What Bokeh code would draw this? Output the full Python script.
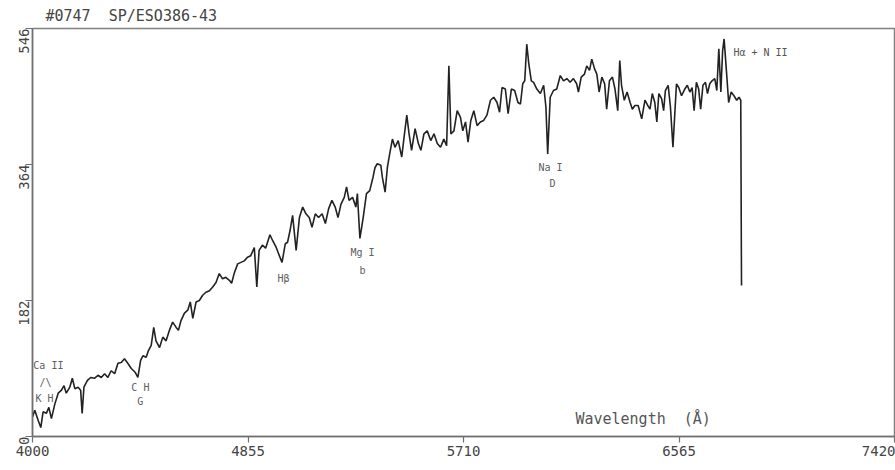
from bokeh.plotting import figure
from bokeh.models import ColumnDataSource, FixedTicker
from bokeh.core.properties import value
from bokeh.embed import file_html
from bokeh.resources import INLINE
import math

# Spectrum of #0747 SP/ESO386-43 (wavelength in Angstrom, flux in plot units)
wavelength = [4000,4009,4023,4033,4042,4055,4065,4075,4089,4102,
4115,4125,4134,4148,4158,4168,4181,4191,4197,4204,
4218,4231,4247,4260,4273,4286,4299,4312,4326,4339,
4352,4365,4378,4392,4407,4418,4429,4438,4451,4460,
4471,4481,4490,4504,4517,4530,4543,4556,4570,4579,
4589,4603,4616,4626,4636,4649,4662,4675,4688,4702,
4715,4728,4741,4754,4767,4781,4790,4800,4814,4827,
4840,4853,4866,4880,4890,4899,4912,4925,4942,4953,
4967,4977,4990,5003,5012,5022,5032,5046,5059,5072,
5085,5098,5109,5122,5135,5149,5162,5175,5188,5201,
5212,5224,5237,5246,5256,5270,5283,5289,5299,5312,
5325,5338,5351,5359,5368,5382,5388,5399,5408,5417,
5428,5438,5451,5465,5474,5485,5494,5504,5518,5531,
5541,5553,5566,5580,5593,5606,5619,5632,5643,5652,
5660,5672,5685,5698,5707,5718,5728,5739,5751,5764,
5777,5790,5803,5817,5830,5843,5853,5863,5876,5887,
5900,5913,5926,5936,5945,5953,5961,5969,5979,5988,
6001,6015,6028,6037,6044,6054,6067,6080,6094,6107,
6120,6133,6146,6159,6166,6177,6190,6199,6210,6219,
6230,6239,6248,6259,6270,6278,6289,6301,6311,6322,
6330,6337,6348,6359,6371,6380,6390,6403,6417,6430,
6441,6450,6459,6469,6477,6485,6496,6504,6511,6522,
6531,6541,6549,6555,6564,6575,6588,6598,6608,6617,
6625,6634,6643,6651,6660,6670,6678,6687,6696,6707,
6715,6723,6731,6738,6744,6753,6762,6772,6783,6794,
6803,6810,6813]

flux = [26,35,21,12,33,31,39,24,44,58,
62,68,58,66,78,64,66,62,31,66,
75,79,78,82,79,84,79,88,84,98,
99,104,98,91,86,79,102,108,106,115,
122,146,128,119,133,128,142,153,146,142,
155,165,169,180,158,180,182,189,193,195,
200,206,218,211,213,209,205,218,231,233,
235,240,242,253,200,249,256,252,270,262,
253,244,233,258,260,276,296,249,293,307,
298,293,280,298,293,298,285,305,316,307,
293,311,320,334,316,320,307,325,265,293,
325,329,347,360,365,363,347,327,360,378,
398,387,396,374,400,430,405,383,412,392,
383,405,409,396,405,392,387,398,389,496,
405,409,436,427,409,421,394,423,436,416,
421,423,430,450,454,447,434,467,465,432,
465,463,447,445,472,476,525,499,476,474,
465,459,470,441,378,454,463,465,483,476,
479,474,479,472,461,481,485,496,490,505,
492,485,461,481,472,438,476,481,465,436,
503,470,450,461,447,438,443,443,425,450,
443,438,459,447,421,459,452,436,463,470,
441,387,436,472,467,456,465,470,461,467,
436,474,465,438,470,474,459,472,476,479,
463,519,461,516,532,490,447,461,456,450,
454,450,202]

x_ticks = [4000, 4855, 5710, 6565, 7420]
y_ticks = [0, 182, 364, 546]

# Line identifications (centred labels)
line_labels = ["Ca II", "/\\", "K H", "C H", "G", "H\u03b2", "Mg I", "b", "Na I", "D"]
line_label_x = [4063, 4052, 4048, 4428, 4428, 4996, 5309, 5309, 6055, 6063]
line_label_y = [95, 72, 51, 66, 47, 211, 246, 222, 360, 339]

# Left-aligned labels
left_labels = ["H\u03b1 + N II", "Wavelength\u00a0\u00a0(\u00c5)"]
left_label_x = [6781, 6154]
left_label_y = [514, 24]
left_label_size = ["10px", "15px"]

FONT = "DejaVu Sans Mono"

p = figure(width=895, height=470, x_range=(4000, 7420), y_range=(0, 546),
           output_backend="svg", toolbar_location=None,
           min_border_left=32, min_border_right=1, min_border_top=28,
           min_border_bottom=34,
           title="#0747\u00a0\u00a0SP/ESO386-43")

p.title.text_font = FONT
p.title.text_font_size = "15px"
p.title.text_font_style = "normal"
p.title.text_color = "#444444"
p.title.offset = 13
p.title.standoff = 7

p.grid.visible = False
p.background_fill_color = "white"
p.border_fill_color = "white"
p.outline_line_color = "#808080"
p.outline_line_width = 1.5

for ax in (p.xaxis[0], p.yaxis[0]):
    ax.axis_line_color = "#707070"
    ax.axis_line_width = 1.5
    ax.major_tick_line_color = "#707070"
    ax.major_tick_line_width = 1.2
    ax.major_tick_in = 0
    ax.minor_tick_line_color = None
    ax.major_label_text_font = FONT
    ax.major_label_text_font_size = "14px"
    ax.major_label_text_color = "#444444"

p.xaxis[0].ticker = FixedTicker(ticks=x_ticks)
p.xaxis[0].major_tick_out = 6
p.xaxis[0].major_label_standoff = 3
p.yaxis[0].ticker = FixedTicker(ticks=y_ticks)
p.yaxis[0].major_tick_out = 7
p.yaxis[0].major_label_standoff = 2
p.yaxis[0].major_label_orientation = math.pi / 2

src = ColumnDataSource(dict(x=wavelength, y=flux))
p.line("x", "y", source=src, line_color="#222222", line_width=1.6)

lab = ColumnDataSource(dict(x=line_label_x, y=line_label_y, t=line_labels))
p.text("x", "y", text="t", source=lab, text_font=value(FONT),
       text_font_size="10px", text_color="#606060",
       text_align="center", text_baseline="middle")

lab2 = ColumnDataSource(dict(x=left_label_x, y=left_label_y, t=left_labels,
                             s=left_label_size))
p.text("x", "y", text="t", source=lab2, text_font=value(FONT),
       text_font_size="s", text_color="#555555",
       text_align="left", text_baseline="middle")

open("out.html", "w").write(file_html(p, INLINE))
